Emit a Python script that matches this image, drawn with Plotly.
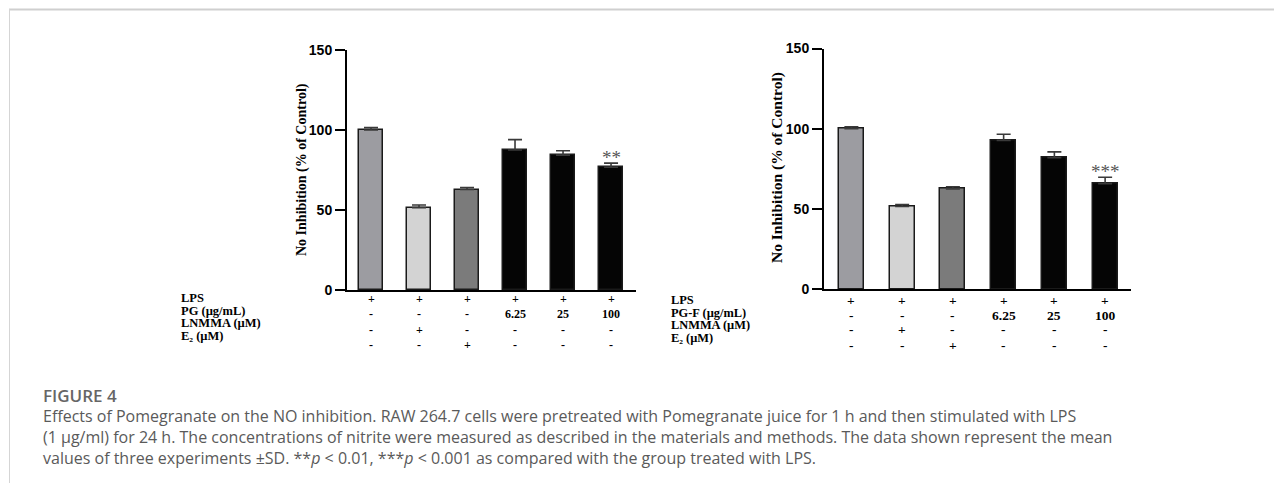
import plotly.graph_objects as go

# page body has an 8px margin, so the figure is 16px smaller than the window
FW, FH = 1266, 476
OX, OY = 8, 8

# ---------------- data ----------------
groups = ["LPS", "LNMMA", "E2", "6.25", "25", "100"]
left_values = [100.0, 51.5, 62.8, 87.5, 84.3, 76.7]
left_sd = [1.5, 1.6, 1.3, 6.5, 2.7, 2.6]
right_values = [100.0, 51.6, 62.5, 92.8, 82.0, 65.8]
right_sd = [1.2, 1.2, 1.4, 3.8, 3.6, 4.0]
bar_colors = ["#9c9ca1", "#d3d3d3", "#7b7b7b", "#050505", "#050505", "#050505"]

left_sig = ["", "", "", "", "", "**"]
right_sig = ["", "", "", "", "", "***"]

row_labels_left = ["LPS", "PG (µg/mL)", "LNMMA (µM)", "E₂ (µM)"]
row_labels_right = ["LPS", "PG-F (µg/mL)", "LNMMA (µM)", "E₂ (µM)"]
row_lps = ["+", "+", "+", "+", "+", "+"]
row_pg = ["-", "-", "-", "6.25", "25", "100"]
row_lnmma = ["-", "+", "-", "-", "-", "-"]
row_e2 = ["-", "-", "+", "-", "-", "-"]
table_rows = [row_lps, row_pg, row_lnmma, row_e2]

y_title = "No Inhibition (% of Control)"
y_ticks = [0, 50, 100, 150]

caption_title = "FIGURE 4"
caption_lines = [
    "Effects of Pomegranate on the NO inhibition. RAW 264.7 cells were pretreated with Pomegranate juice for 1 h and then stimulated with LPS",
    "(1 µg/ml) for 24 h. The concentrations of nitrite were measured as described in the materials and methods. The data shown represent the mean",
    "values of three experiments ±SD. **<i>p</i> &lt; 0.01, ***<i>p</i> &lt; 0.001 as compared with the group treated with LPS.",
]


def px(x):
    return (x - OX) / FW


def py(y):
    return 1 - (y - OY) / FH


xpos = list(range(len(groups)))

fig = go.Figure()

for vals, sd, xa, ya in [(left_values, left_sd, "x", "y"), (right_values, right_sd, "x2", "y2")]:
    fig.add_trace(go.Bar(
        x=xpos, y=vals, width=0.49,
        marker=dict(color=bar_colors, line=dict(color="#1a1a1a", width=1.5)),
        error_y=dict(type="data", symmetric=False, array=sd, arrayminus=[0] * len(sd),
                     color="#3a3a3a", thickness=1.6, width=7),
        xaxis=xa, yaxis=ya, showlegend=False, hoverinfo="skip",
    ))

axis_common_x = dict(showline=True, linecolor="black", linewidth=2, showticklabels=False,
                     ticks="", showgrid=False, zeroline=False, fixedrange=True, automargin=False)
axis_common_y = dict(showline=True, linecolor="black", linewidth=2, ticks="outside",
                     ticklen=10, tickwidth=2, tickcolor="black", tickvals=y_ticks,
                     showgrid=False, zeroline=False, range=[0, 150], automargin=False,
                     tickfont=dict(family="Liberation Sans, Arial", size=14, color="black", weight="bold"))

fig.update_layout(
    width=FW, height=FH, margin=dict(l=0, r=0, t=0, b=0, pad=0), autosize=False,
    paper_bgcolor="white", plot_bgcolor="white", bargap=0,
    xaxis=dict(domain=[px(347), px(636)], range=[-0.5, 5.52], anchor="y", **axis_common_x),
    yaxis=dict(domain=[py(290), py(50)], anchor="x", **axis_common_y),
    xaxis2=dict(domain=[px(824), px(1131)], range=[-0.54, 5.51], anchor="y2", **axis_common_x),
    yaxis2=dict(domain=[py(289.3), py(48.5)], anchor="x2", **axis_common_y),
)

ann = []
serif = "Liberation Serif, Times New Roman"
# y-axis titles
ann.append(dict(x=px(302), y=py(170), xref="paper", yref="paper", text=y_title, textangle=-90,
                xanchor="center", yanchor="middle", showarrow=False,
                font=dict(family=serif, size=14, color="black", weight="bold")))
ann.append(dict(x=px(777), y=py(168), xref="paper", yref="paper", text=y_title, textangle=-90,
                xanchor="center", yanchor="middle", showarrow=False,
                font=dict(family=serif, size=15.5, color="black", weight="bold")))

# significance marks
for sig, vals, sd, xr, yr in [(left_sig, left_values, left_sd, "x", "y"), (right_sig, right_values, right_sd, "x2", "y2")]:
    for i, s in enumerate(sig):
        if s:
            ann.append(dict(x=i, y=vals[i] + sd[i], xref=xr, yref=yr, text=s, showarrow=False,
                            xanchor="center", yanchor="middle", yshift=6,
                            font=dict(family=serif, size=19, color="#555555")))

# table under the charts
left_rows_y = [298.5, 314, 329.5, 345]
right_rows_y = [300, 315, 329.5, 345]
for rows_y, xr, fs in [(left_rows_y, "x", 12), (right_rows_y, "x2", 13.5)]:
    for r, row in enumerate(table_rows):
        for i, t in enumerate(row):
            ann.append(dict(x=i, y=py(rows_y[r]), xref=xr, yref="paper", text=t, showarrow=False,
                            xanchor="center", yanchor="middle",
                            font=dict(family=serif, size=fs, color="black", weight="bold")))

# row labels
left_lab_y = [298, 310.5, 323, 335.5]
right_lab_y = [300.3, 312.7, 325.1, 337.5]
for labels, xs, ys, fs in [(row_labels_left, 179, left_lab_y, 12.5), (row_labels_right, 669, right_lab_y, 12.4)]:
    for lab, yy in zip(labels, ys):
        ann.append(dict(x=px(xs), y=py(yy), xref="paper", yref="paper", text=lab, showarrow=False,
                        xanchor="left", yanchor="middle",
                        font=dict(family=serif, size=fs, color="black", weight="bold")))

# caption
ann.append(dict(x=px(41), y=py(395), xref="paper", yref="paper", text=caption_title, showarrow=False,
                xanchor="left", yanchor="middle",
                font=dict(family="Open Sans", size=17, color="#666666", weight=600)))
ann.append(dict(x=px(41), y=py(436.5), xref="paper", yref="paper", text="<br>".join(caption_lines),
                showarrow=False, xanchor="left", yanchor="middle", align="left",
                font=dict(family="Open Sans", size=16, color="#5a5a5a")))

fig.update_layout(annotations=ann)

# frame lines
fig.add_shape(type="line", xref="paper", yref="paper", x0=px(9), x1=1, y0=py(9.5), y1=py(9.5),
              line=dict(color="#cfcfcf", width=2))
fig.add_shape(type="line", xref="paper", yref="paper", x0=px(9.5), x1=px(9.5), y0=py(9), y1=py(483),
              line=dict(color="#d5d5d5", width=1))

fig.write_html("out.html")
